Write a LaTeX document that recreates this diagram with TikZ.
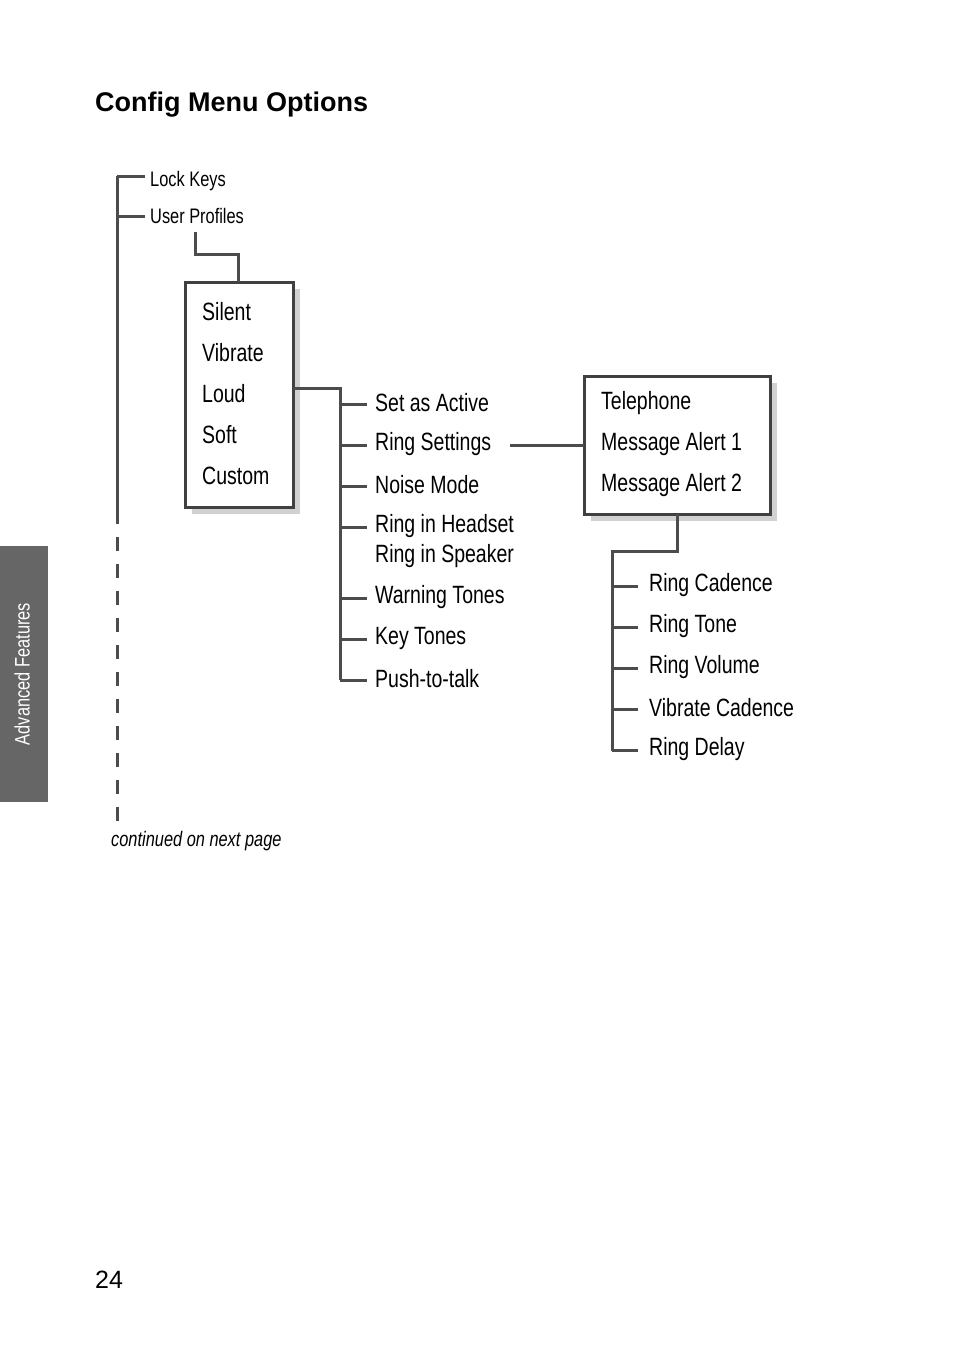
\documentclass[tikz,border=0pt]{standalone}
\usepackage{fontspec}
\setmainfont{Liberation Sans}
\newfontfamily\condf[FakeStretch=0.78]{Liberation Sans}
\begin{document}
\begin{tikzpicture}[x=1pt,y=-1pt,
  ln/.style={line width=3pt,draw=black!70},
  itm/.style={anchor=west,inner sep=0,font=\condf\fontsize{25}{25}\selectfont},
  sitm/.style={anchor=west,inner sep=0,font=\condf\fontsize{21}{21}\selectfont},
  bx/.style={draw=black!75,line width=3pt,fill=white},
  shd/.style={fill=black!18}]
\useasboundingbox (0,0) rectangle (954,1350);
\node[anchor=west,inner sep=0,font=\bfseries\fontsize{27}{27}\selectfont] (title) at (95,105) {Config Menu Options};
% side tab
\fill[black!60] (0,546) rectangle (48,802);
\node[rotate=90,text=white,inner sep=0,font=\fontsize{21}{21}\selectfont\condf] (tab) at (22,674) {Advanced Features};
\node[anchor=west,inner sep=0,font=\fontsize{25}{25}\selectfont] (pg) at (95,1280) {24};
% left trunk
\coordinate (t0) at (117,176);
\coordinate (t1) at (117,510);
\coordinate (t2) at (117,825);
\draw[ln] (t0) -- (t1);
\draw[ln,dash pattern=on 14pt off 13pt] (t1) -- (t2);
\node[sitm] (lk) at (150,181) {Lock Keys};
\node[sitm] (up) at (150,216) {User Profiles};
\draw[ln] (t0) -- (145,176);
\draw[ln] (117,216) -- (145,216);
\node[anchor=west,inner sep=0,font=\condf\itshape\fontsize{21}{21}\selectfont] (cont) at (111,841) {continued on next page};
% box 1
\fill[shd] (192,289) rectangle (300,514);
\draw[bx] (185,282) rectangle (293,507);
\coordinate (b1top) at (238,282);
\draw[ln] (195,232) -- (195,254) -- (238,254) -- (b1top);
\foreach \t/\y in {Silent/312,Vibrate/353,Loud/394,Soft/435,Custom/476}
  \node[itm] (n\t) at (202,\y) {\t};
% trunk 2
\draw[ln] (293,388) -- (340,388) -- (340,680);
\foreach \y in {404,445,486,527,598,639,680} \draw[ln] (340,\y) -- (367,\y);
\node[itm] (sa) at (375,403) {Set as Active};
\node[itm] (rs) at (375,444) {Ring Settings};
\node[itm] (nm) at (375,485) {Noise Mode};
\node[itm] (rh) at (375,526) {Ring in Headset};
\node[itm] (rsp) at (375,556) {Ring in Speaker};
\node[itm] (wt) at (375,597) {Warning Tones};
\node[itm] (kt) at (375,638) {Key Tones};
\node[itm] (pt) at (375,679) {Push-to-talk};
% box 2
\fill[shd] (591,383) rectangle (777,521);
\draw[bx] (584,376) rectangle (770,514);
\draw[ln] (510,445) -- (584,445);
\node[itm] (tel) at (601,403) {Telephone};
\node[itm] (ma1) at (601,444) {Message Alert 1};
\node[itm] (ma2) at (601,485) {Message Alert 2};
% trunk 3
\draw[ln] (677,514) -- (677,551) -- (612,551) -- (612,751);
\foreach \y in {586,627,668,709,750} \draw[ln] (612,\y) -- (638,\y);
\node[itm] (rc) at (649,585) {Ring Cadence};
\node[itm] (rt) at (649,626) {Ring Tone};
\node[itm] (rv) at (649,667) {Ring Volume};
\node[itm] (vc) at (649,708) {Vibrate Cadence};
\node[itm] (rd) at (649,749) {Ring Delay};
\end{tikzpicture}
\end{document}
